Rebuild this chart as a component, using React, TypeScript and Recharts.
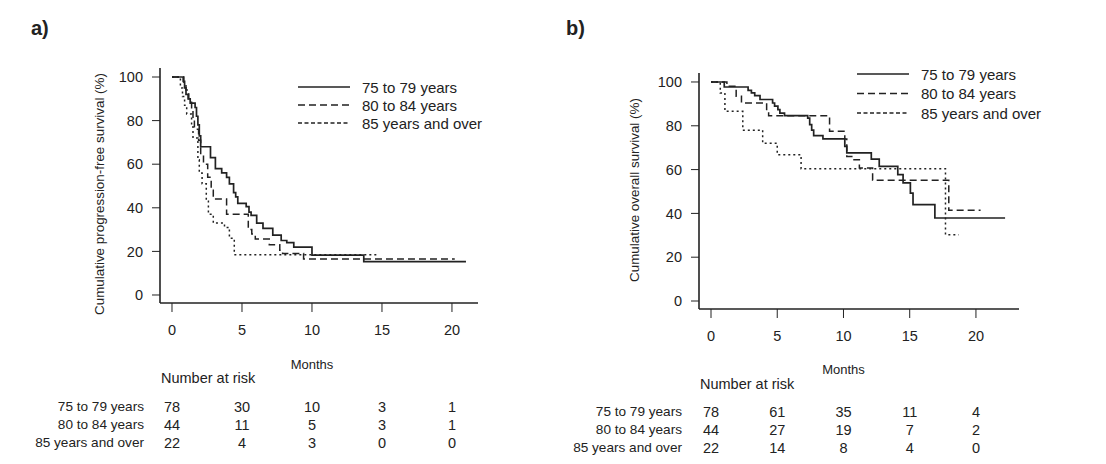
import React from 'react';
import { LineChart, Line, XAxis, YAxis } from 'recharts';

type Pt = { t: number; s: number };
const pts = (rows: number[][]): Pt[] => rows.map(([t, s]) => ({ t, s }));

const monthTicks = [0, 5, 10, 15, 20];
const survivalTicks = [0, 20, 40, 60, 80, 100];
const groups = ['75 to 79 years', '80 to 84 years', '85 years and over'];

// a) progression-free survival
const pfs75 = pts([[0,100],[0.8,98],[0.9,95],[1.0,92],[1.15,90],[1.3,88],[1.65,86],[1.75,82],[1.85,78],[1.95,73],[2.05,68],[2.75,63],[3.1,58],[3.55,56],[3.9,54],[4.1,51],[4.4,47],[4.55,45],[4.7,42],[5.3,40.5],[5.5,38],[5.65,36.5],[6.05,33],[6.5,30.6],[7.2,27.5],[7.8,25],[8.2,24],[8.7,22],[10.0,18.3],[13.7,15.3],[21,15.3]]);
const pfs80 = pts([[0,100],[0.85,97],[1.0,94],[1.2,90],[1.4,85],[1.5,80],[1.6,76],[1.9,71],[2.05,64],[2.25,60],[2.55,54],[2.8,48],[2.95,44],[3.9,37],[5.45,30],[5.7,28],[5.95,25.7],[6.95,23],[7.7,20.5],[7.9,19],[9.4,16.5],[20.2,16.5]]);
const pfs85 = pts([[0,100],[0.6,95],[0.75,91],[0.9,87],[1.05,83],[1.4,78],[1.5,72],[1.85,62],[1.95,56],[2.15,51],[2.45,43],[2.6,37],[2.95,33],[3.75,31],[4.1,26],[4.45,18.5],[14.6,18.5]]);

// b) overall survival
const os75 = pts([[0,100],[1.0,97.7],[2.8,96.2],[3.05,95],[3.3,93.8],[3.7,92],[4.65,90.4],[4.8,89],[5.05,87.4],[5.2,85.8],[5.55,84.6],[7.3,83.5],[7.45,80.5],[7.6,78],[7.75,75.5],[8.45,74],[10.1,70.6],[10.25,67.6],[12.1,64.8],[12.7,61.5],[14.1,57.7],[14.5,53.9],[15.05,49.3],[15.25,44],[16.9,37.9],[22.2,37.9]]);
const os80 = pts([[0,100],[1.2,98],[1.9,93.5],[2.3,90.4],[4.2,87.4],[4.35,84.6],[8.95,77.5],[10.1,74],[10.25,66],[10.7,64.5],[11.2,60.7],[12.2,55.1],[17.95,41.4],[20.35,41.4]]);
const os85 = pts([[0,100],[0.7,95],[1.05,86.6],[2.4,78],[3.9,72],[5.0,66.8],[6.8,60.4],[17.7,30.3],[18.7,30.3]]);

const riskPfs = [
  [78, 30, 10, 3, 1],
  [44, 11, 5, 3, 1],
  [22, 4, 3, 0, 0],
];
const riskOs = [
  [78, 61, 35, 11, 4],
  [44, 27, 19, 7, 2],
  [22, 14, 8, 4, 0],
];

const FONT = '"Liberation Sans", Arial, sans-serif';
const INK = '#222';
const dashes = [undefined, '7 4', '2 3'];
const legendDashes = [undefined, '7 4', '4 2.5'];

type Panel = {
  offset: number; // page x of the chart box
  plotLeft: number; plotRight: number; plotTop: number; plotBottom: number; // page coords
  xDomain: [number, number];
  yDomain: [number, number];
  series: Pt[][];
  risk: number[][];
  tag: string; tagX: number;
  yTitle: string; yTitleX: number; yTitleY: number;
  legendX: number; legendY: number; legendGap: number;
  monthsY: number; riskTitleY: number; riskRowY: number; riskLabelRight: number;
};

const W = 553;
const H = 464;

const panels: Panel[] = [
  {
    offset: 0, plotLeft: 160, plotRight: 478, plotTop: 68, plotBottom: 303,
    xDomain: [-0.857, 21.86], yDomain: [-3.67, 104.13],
    series: [pfs75, pfs80, pfs85], risk: riskPfs,
    tag: 'a)', tagX: 31,
    yTitle: 'Cumulative progression-free survival (%)', yTitleX: 99, yTitleY: 194,
    legendX: 298, legendY: 87, legendGap: 18,
    monthsY: 364, riskTitleY: 378, riskRowY: 406, riskLabelRight: 144,
  },
  {
    offset: 553, plotLeft: 699, plotRight: 1019, plotTop: 73, plotBottom: 309,
    xDomain: [-0.906, 23.25], yDomain: [-3.65, 104.1],
    series: [os75, os80, os85], risk: riskOs,
    tag: 'b)', tagX: 566,
    yTitle: 'Cumulative overall survival (%)', yTitleX: 634, yTitleY: 190,
    legendX: 857, legendY: 74, legendGap: 19.5,
    monthsY: 369, riskTitleY: 384, riskRowY: 411, riskLabelRight: 682,
  },
];

const KMChart: React.FC<{ p: Panel }> = ({ p }) => {
  const localLeft = p.plotLeft - p.offset;
  const localRight = p.plotRight - p.offset;
  return (
    <div style={{ position: 'absolute', left: p.offset, top: 0 }}>
      <LineChart
        width={W}
        height={H}
        margin={{ top: p.plotTop, right: W - localRight, left: localLeft - 40, bottom: H - p.plotBottom - 40 }}
      >
        <XAxis
          dataKey="t"
          type="number"
          domain={p.xDomain}
          ticks={monthTicks}
          interval={0}
          allowDataOverflow
          height={40}
          tickSize={9}
          tickMargin={13}
          axisLine={{ stroke: INK, strokeWidth: 1.6 }}
          tickLine={{ stroke: INK, strokeWidth: 1 }}
          tick={{ fill: INK, fontSize: 14.5, fontFamily: FONT }}
        />
        <YAxis
          dataKey="s"
          type="number"
          domain={p.yDomain}
          ticks={survivalTicks}
          interval={0}
          allowDataOverflow
          width={40}
          tickSize={8}
          tickMargin={9}
          axisLine={{ stroke: INK, strokeWidth: 1.6 }}
          tickLine={{ stroke: INK, strokeWidth: 1 }}
          tick={{ fill: INK, fontSize: 14.5, fontFamily: FONT }}
        />
        {p.series.map((d, i) => (
          <Line
            key={groups[i]}
            data={d}
            dataKey="s"
            type="stepAfter"
            stroke={INK}
            strokeWidth={i === 0 ? 1.7 : 1.5}
            strokeDasharray={dashes[i]}
            dot={false}
            isAnimationActive={false}
          />
        ))}
      </LineChart>
    </div>
  );
};

const Annotations: React.FC<{ p: Panel }> = ({ p }) => {
  const monthX = (t: number) =>
    p.plotLeft + ((t - p.xDomain[0]) / (p.xDomain[1] - p.xDomain[0])) * (p.plotRight - p.plotLeft);
  const rowGap = 18;
  return (
    <g fontFamily={FONT} fill={INK}>
      <text x={p.tagX} y={35} fontSize={20} fontWeight="bold">{p.tag}</text>
      <text
        x={p.yTitleX}
        y={p.yTitleY}
        fontSize={13.4}
        textAnchor="middle"
        dominantBaseline="central"
        transform={`rotate(-90 ${p.yTitleX} ${p.yTitleY})`}
      >
        {p.yTitle}
      </text>
      {groups.map((g, i) => {
        const y = p.legendY + i * p.legendGap;
        return (
          <g key={g}>
            <line x1={p.legendX} x2={p.legendX + 52} y1={y} y2={y} stroke={INK} strokeWidth={1.5} strokeDasharray={legendDashes[i]} />
            <text x={p.legendX + 64} y={y} fontSize={15} dominantBaseline="central">{g}</text>
          </g>
        );
      })}
      <text x={monthX(10)} y={p.monthsY} fontSize={13} textAnchor="middle" dominantBaseline="central">Months</text>
      <text x={p.plotLeft + 1} y={p.riskTitleY} fontSize={14.5} dominantBaseline="central">Number at risk</text>
      {p.risk.map((row, i) => {
        const y = p.riskRowY + i * rowGap;
        return (
          <g key={groups[i]}>
            <text x={p.riskLabelRight} y={y} fontSize={13.6} textAnchor="end" dominantBaseline="central">{groups[i]}</text>
            {row.map((n, j) => (
              <text key={j} x={monthX(monthTicks[j])} y={y + 1} fontSize={14.5} textAnchor="middle" dominantBaseline="central">{n}</text>
            ))}
          </g>
        );
      })}
    </g>
  );
};

export default function App() {
  return (
    <div style={{ position: 'relative', width: 1106, height: 464, background: '#fff', overflow: 'hidden' }}>
      <style>{'body{margin:0}'}</style>
      {panels.map((p) => (
        <KMChart key={p.tag} p={p} />
      ))}
      <svg width={1106} height={464} style={{ position: 'absolute', left: 0, top: 0, pointerEvents: 'none' }}>
        {panels.map((p) => (
          <Annotations key={p.tag} p={p} />
        ))}
      </svg>
    </div>
  );
}
